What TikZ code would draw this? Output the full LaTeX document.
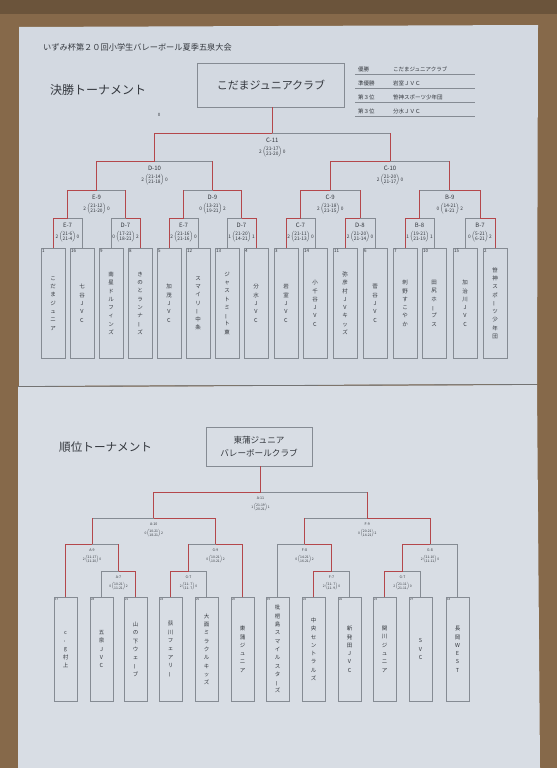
\documentclass[tikz,border=0pt]{standalone}
\usepackage{fontspec}
\setmainfont{Noto Sans CJK JP}
\usepackage{graphicx}
\usetikzlibrary{calc}
\definecolor{bg}{HTML}{86694A}
\definecolor{paperA}{HTML}{D3D9E1}
\definecolor{paperB}{HTML}{D8DDE4}
\definecolor{ln}{HTML}{858B93}
\definecolor{rd}{HTML}{B4474B}
\definecolor{ink}{HTML}{34383E}
\newcommand\chn{\rotatebox[origin=c]{90}{ー}}
\newcommand\hyv{\rotatebox[origin=c]{90}{-}}
\newcommand\mscore[4]{#1\,$\left(\mbox{\begin{tabular}{@{}c@{}}#2\\#3\end{tabular}}\right)$\,#4}
\newcommand\mwin[2]{\draw[win] (#2) |- (#1);}
\newcommand\mlost[2]{\draw[lose] (#2) |- (#1);}
\newcommand\mlostm[2]{\draw[lose] (#2 |- #1) -- (#1); \draw[win] (#2) -- (#2 |- #1);}
\begin{document}
\begin{tikzpicture}[x=1pt,y=-1pt,
  lose/.style={draw=ln,line width=0.6pt},
  win/.style={draw=rd,line width=0.9pt},
  teamA/.style={draw=ln,line width=0.55pt,minimum width=24pt,minimum height=110pt,anchor=north,inner sep=0pt,align=center,text=ink,font=\fontsize{5.5}{8.3}\selectfont},
  teamB/.style={draw=ln,line width=0.55pt,minimum width=23pt,minimum height=104pt,anchor=north,inner sep=0pt,align=center,text=ink,font=\fontsize{5.5}{8.3}\selectfont},
  numA/.style={anchor=north west,inner sep=1.2pt,text=ink,font=\fontsize{4.5}{5}\selectfont},
  numB/.style={anchor=north west,inner sep=1.2pt,text=ink,font=\fontsize{2.8}{3}\selectfont},
  labA/.style={text=ink,inner sep=0pt,font=\fontsize{6}{7}\selectfont},
  labB/.style={text=ink,inner sep=0pt,font=\fontsize{3.6}{4}\selectfont},
  scA/.style={text=ink,inner sep=0pt,scale=0.6,font=\fontsize{8}{9}\selectfont},
  scB/.style={text=ink,inner sep=0pt,scale=0.42,font=\fontsize{8}{9}\selectfont},
  champ/.style={draw=ln,line width=0.6pt,text=ink,align=center,inner sep=0pt},
  head/.style={anchor=west,text=ink,inner sep=0pt},
  tab/.style={anchor=west,text=ink,inner sep=0pt,font=\fontsize{5.5}{6}\selectfont}
]
\useasboundingbox (0,0) rectangle (557,768);
% photo background and sheets
\fill[bg] (0,0) rectangle (557,768);
\fill[bg!80!black] (0,0) rectangle (557,14);
\fill[paperA] (19,27) -- (538,25) -- (537,384) -- (19,386) -- cycle;
\fill[paperB] (18,387) -- (537,385) -- (540,768) -- (18,768) -- cycle;
\draw[black!55,line width=0.8pt] (18,386.5) -- (537,384.5);

% ================= top sheet =================
\node[head,font=\fontsize{8.2}{10}\selectfont] (title) at (43,47) {いずみ杯第２０回小学生バレーボール夏季五泉大会};
\node[head,font=\fontsize{12}{14}\selectfont] (headA) at (50,90) {決勝トーナメント};
\node[champ,minimum width=147pt,minimum height=44pt,font=\fontsize{11}{13}\selectfont] (champA) at (271,85) {こだまジュニアクラブ};
\node[text=ink,inner sep=0pt,font=\fontsize{4.5}{5}\selectfont] (zero) at (159,115) {0};

% results table
\node[tab] (r1a) at (358,69) {優勝};   \node[tab] (r1b) at (393,69) {こだまジュニアクラブ};
\node[tab] (r2a) at (358,83) {準優勝}; \node[tab] (r2b) at (393,83) {岩室ＪＶＣ};
\node[tab] (r3a) at (358,97) {第３位}; \node[tab] (r3b) at (393,97) {笹神スポーツ少年団};
\node[tab] (r4a) at (358,111) {第３位}; \node[tab] (r4b) at (393,111) {分水ＪＶＣ};
\foreach \yy in {74,88,102,116} \draw[ln,line width=0.5pt] (355,\yy) -- (475,\yy);

% team boxes
\node[teamA] (t1) at (53,248) {こ\\だ\\ま\\ジ\\ュ\\ニ\\ア};
\node[teamA] (t2) at (82,248) {七\\谷\\J\\V\\C};
\node[teamA] (t3) at (111,248) {南\\星\\ド\\ル\\フ\\ィ\\ン\\ズ};
\node[teamA] (t4) at (140,248) {き\\の\\と\\ラ\\ン\\ナ\\\chn\\ズ};
\node[teamA] (t5) at (169,248) {加\\茂\\J\\V\\C};
\node[teamA] (t6) at (198,248) {ス\\マ\\イ\\リ\\\chn\\中\\条};
\node[teamA] (t7) at (227,248) {ジ\\ャ\\ス\\ト\\ミ\\\chn\\ト\\東};
\node[teamA] (t8) at (256,248) {分\\水\\J\\V\\C};
\node[teamA] (t9) at (286,248) {岩\\室\\J\\V\\C};
\node[teamA] (t10) at (315,248) {小\\千\\谷\\J\\V\\C};
\node[teamA] (t11) at (345,248) {弥\\彦\\村\\J\\V\\キ\\ッ\\ズ};
\node[teamA] (t12) at (375,248) {菅\\谷\\J\\V\\C};
\node[teamA] (t13) at (405,248) {刺\\野\\す\\こ\\や\\か};
\node[teamA] (t14) at (434,248) {田\\尻\\ホ\\\chn\\プ\\ス};
\node[teamA] (t15) at (465,248) {加\\治\\川\\J\\V\\C};
\node[teamA] (t16) at (495,248) {笹\\神\\ス\\ポ\\\chn\\ツ\\少\\年\\団};
\foreach \t/\n in {t1/1,t2/16,t3/9,t4/8,t5/5,t6/12,t7/13,t8/4,t9/3,t10/14,t11/11,t12/6,t13/7,t14/10,t15/15,t16/2}
  \node[numA] (n\t) at (\t.north west) {\n};

% match points
\coordinate (E7a) at (67.5,218);
\coordinate (D7a) at (125.5,218);
\coordinate (E7b) at (183.5,218);
\coordinate (D7b) at (241.5,218);
\coordinate (C7) at (300.5,218);
\coordinate (D8) at (360,218);
\coordinate (B8) at (419.5,218);
\coordinate (B7) at (480,218);
\coordinate (E9) at (96.5,190);
\coordinate (D9) at (212.5,190);
\coordinate (C9) at (330.25,190);
\coordinate (B9) at (449.75,190);
\coordinate (D10) at (154.5,161);
\coordinate (C10) at (390,161);
\coordinate (C11) at (272.25,133);

% bracket lines
\mlost{E7a}{t2.north} \mwin{E7a}{t1.north}
\mlost{D7a}{t3.north} \mwin{D7a}{t4.north}
\mlost{E7b}{t6.north} \mwin{E7b}{t5.north}
\mlost{D7b}{t7.north} \mwin{D7b}{t8.north}
\mlost{C7}{t10.north} \mwin{C7}{t9.north}
\mlost{D8}{t12.north} \mwin{D8}{t11.north}
\mlost{B8}{t14.north} \mwin{B8}{t13.north}
\mlost{B7}{t15.north} \mwin{B7}{t16.north}
\mlostm{E9}{D7a} \mwin{E9}{E7a}
\mlostm{D9}{E7b} \mwin{D9}{D7b}
\mlostm{C9}{D8} \mwin{C9}{C7}
\mlostm{B9}{B8} \mwin{B9}{B7}
\mlostm{D10}{D9} \mwin{D10}{E9}
\mlostm{C10}{B9} \mwin{C10}{C9}
\mlostm{C11}{C10} \mwin{C11}{D10}
\draw[win] (C11) -- (C11 |- champA.south);

% labels and scores
\foreach \m/\l/\a/\b/\c/\d in {
  E7a/E-7/2/21-6/21-4/0, D7a/D-7/0/17-21/18-21/2, E7b/E-7/2/21-16/21-16/0, D7b/D-7/1/21-20/14-21/1,
  C7/C-7/2/21-11/21-13/0, D8/D-8/2/21-20/21-14/0, B8/B-8/1/19-21/21-19/1, B7/B-7/0/5-21/6-21/2,
  E9/E-9/2/21-12/21-20/0, D9/D-9/0/13-21/19-21/2, C9/C-9/2/21-18/21-15/0, B9/B-9/0/14-21/8-21/2,
  D10/D-10/2/21-14/21-18/0, C10/C-10/2/21-20/21-17/0, C11/C-11/2/21-17/21-20/0}
{
  \node[labA] (l\m) at ($(\m)+(0,7.5)$) {\l};
  \node[scA] (s\m) at ($(\m)+(0,19)$) {\mscore{\a}{\b}{\c}{\d}};
}

% ================= bottom sheet =================
\node[head,font=\fontsize{11.6}{14}\selectfont] (headB) at (59,447) {順位トーナメント};
\node[champ,minimum width=106pt,minimum height=39pt,font=\fontsize{8.6}{12.5}\selectfont] (champB) at (259,446.5) {東蒲ジュニア\\バレーボールクラブ};

\node[teamB] (b1) at (65.5,597) {c\\\hyv\\g\\村\\上};
\node[teamB] (b2) at (101.5,597) {五\\泉\\J\\V\\C};
\node[teamB] (b3) at (135.5,597) {山\\の\\下\\ウ\\ェ\\\chn\\ブ};
\node[teamB] (b4) at (170.5,597) {荻\\川\\フ\\ェ\\ア\\リ\\\chn};
\node[teamB] (b5) at (206.5,597) {大\\面\\ミ\\ラ\\ク\\ル\\キ\\ッ\\ズ};
\node[teamB] (b6) at (242.5,597) {東\\蒲\\ジ\\ュ\\ニ\\ア};
\node[teamB] (b7) at (277.5,597) {枇\\杷\\島\\ス\\マ\\イ\\ル\\ス\\タ\\\chn\\ズ};
\node[teamB] (b8) at (313.5,597) {中\\央\\セ\\ン\\ト\\ラ\\ル\\ズ};
\node[teamB] (b9) at (349.5,597) {新\\発\\田\\J\\V\\C};
\node[teamB] (b10) at (384.5,597) {関\\川\\ジ\\ュ\\ニ\\ア};
\node[teamB] (b11) at (420.5,597) {S\\V\\C};
\node[teamB] (b12) at (457.5,597) {長\\岡\\W\\E\\S\\T};
\foreach \t/\n in {b1/17,b2/28,b3/21,b4/24,b5/25,b6/20,b7/19,b8/22,b9/26,b10/23,b11/27,b12/18}
  \node[numB] (n\t) at (\t.north west) {\n};

\coordinate (A7) at (118.5,571);
\coordinate (G7a) at (188.5,571);
\coordinate (F7) at (331.5,571);
\coordinate (G7b) at (402.5,571);
\coordinate (A9) at (92,544);
\coordinate (G9) at (215.5,544);
\coordinate (F8) at (304.5,544);
\coordinate (G8) at (430,544);
\coordinate (A10) at (153.75,518);
\coordinate (F9) at (367.25,518);
\coordinate (A11) at (260.5,492);

\mlost{A7}{b2.north} \mwin{A7}{b3.north}
\mlost{G7a}{b5.north} \mwin{G7a}{b4.north}
\mlost{F7}{b9.north} \mwin{F7}{b8.north}
\mlost{G7b}{b11.north} \mwin{G7b}{b10.north}
\mlostm{A9}{A7} \mwin{A9}{b1.north}
\mlostm{G9}{G7a} \mwin{G9}{b6.north}
\mlost{F8}{b7.north} \mwin{F8}{F7}
\mlost{G8}{b12.north} \mwin{G8}{G7b}
\mlostm{A10}{A9} \mwin{A10}{G9}
\mlostm{F9}{F8} \mwin{F9}{G8}
\mlostm{A11}{F9} \mwin{A11}{A10}
\draw[win] (A11) -- (A11 |- champB.south);

\foreach \m/\l/\a/\b/\c/\d in {
  A7/A-7/0/10-21/11-21/2, G7a/G-7/2/21- 7/21- 7/0, F7/F-7/2/21- 7/21- 9/0, G7b/G-7/2/21-11/21-11/0,
  A9/A-9/2/21-17/21-20/0, G9/G-9/0/10-21/10-21/2, F8/F-8/0/14-21/16-21/2, G8/G-8/2/21-10/21-11/0,
  A10/A-10/0/10-21/18-21/2, F9/F-9/0/20-21/14-21/2, A11/A-11/1/21-19/20-21/1}
{
  \node[labB] (l\m) at ($(\m)+(0,6.5)$) {\l};
  \node[scB] (s\m) at ($(\m)+(0,15.5)$) {\mscore{\a}{\b}{\c}{\d}};
}
\end{tikzpicture}
\end{document}
